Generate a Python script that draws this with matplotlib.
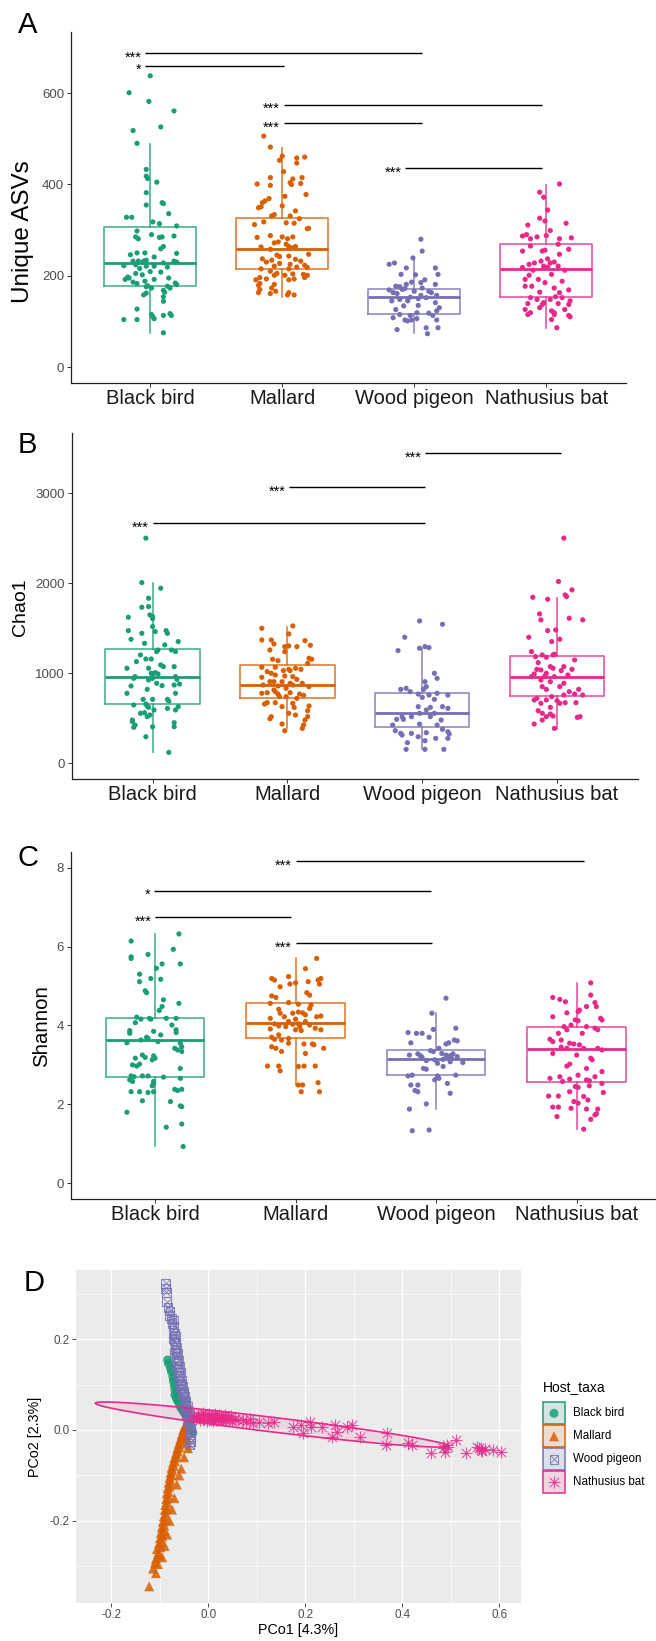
import matplotlib
matplotlib.use('Agg')
import matplotlib.pyplot as plt
from matplotlib.patches import Rectangle, Polygon
from matplotlib.colors import to_rgba
import numpy as np

plt.rcParams['font.family'] = ['Liberation Sans', 'DejaVu Sans']

# ---------------- data ----------------
categories = ["Black bird", "Mallard", "Wood pigeon", "Nathusius bat"]
colors = ["#1B9E77", "#D95F02", "#7570B3", "#E7298A"]

# Panel A : Unique ASVs  (jitter offset, value)
asv_black = [(0.00,638),(-0.16,601),(-0.01,582),(0.18,561),(-0.13,518),(0.08,526),(-0.10,490),(-0.03,433),
 (-0.03,418),(-0.02,413),(0.05,405),(-0.03,382),(0.09,360),(0.10,358),(-0.03,355),(0.14,336),(-0.18,328),
 (-0.14,328),(0.02,318),(0.07,314),(0.20,309),(-0.10,298),(0.01,290),(-0.11,285),(-0.09,281),(0.07,284),
 (0.09,285),(0.18,287),(0.10,264),(0.08,259),(-0.10,250),(-0.04,250),(0.20,249),(-0.15,246),(0.03,241),
 (-0.13,232),(-0.09,232),(-0.05,232),(-0.03,234),(0.18,232),(0.20,230),(0.10,228),(-0.20,222),(-0.11,224),
 (-0.03,221),(0.03,221),(0.13,219),(-0.08,216),(0.00,209),(0.08,208),(-0.11,205),(-0.06,202),(-0.17,197),
 (-0.16,195),(-0.19,192),(0.14,195),(0.03,192),(-0.04,188),(-0.13,186),(-0.10,183),(0.19,184),(0.20,181),
 (-0.02,178),(-0.03,176),(0.13,177),(0.01,173),(0.15,173),(0.10,168),(0.11,164),(-0.05,158),(-0.03,162),
 (0.10,154),(0.10,144),(-0.10,127),(0.01,115),(0.10,113),(0.15,117),(0.16,113),(0.02,110),(0.03,106),
 (-0.20,104),(-0.10,104),(0.10,75)]
asv_mallard = [(-0.14,506),(-0.09,482),(0.00,462),(-0.02,453),(0.11,458),(0.17,460),(0.11,447),(0.01,428),
 (-0.09,415),(0.08,412),(0.15,415),(-0.19,401),(-0.09,398),(0.06,404),(0.07,400),(0.14,402),(0.18,378),
 (0.02,374),(-0.10,369),(-0.13,364),(-0.15,360),(-0.18,349),(-0.16,351),(0.00,353),(-0.06,334),(-0.08,331),
 (0.10,342),(0.06,331),(0.19,303),(0.20,304),(-0.14,318),(-0.21,312),(0.03,316),(0.09,315),(0.13,325),
 (-0.19,284),(-0.09,288),(0.00,285),(0.04,281),(0.08,285),(-0.06,272),(-0.03,274),(0.03,269),(0.05,264),
 (0.08,261),(0.10,264),(-0.16,263),(-0.09,258),(0.20,247),(-0.04,245),(-0.02,242),(0.05,243),(-0.15,237),
 (-0.08,234),(0.10,236),(0.14,232),(-0.12,230),(-0.02,227),(0.06,225),(-0.06,221),(0.17,223),(0.19,218),
 (-0.16,215),(0.05,215),(0.11,219),(-0.09,210),(-0.04,205),(-0.06,201),(0.02,201),(0.08,204),(0.16,203),
 (0.19,201),(-0.17,196),(-0.12,193),(-0.20,191),(0.05,191),(0.09,193),(0.17,196),(-0.17,183),(-0.18,179),
 (-0.06,181),(-0.08,173),(-0.17,170),(-0.18,163),(-0.05,166),(-0.09,161),(0.04,158),(0.09,158),(0.05,163)]
asv_pigeon = [(0.05,280),(0.06,254),(-0.01,239),(-0.15,228),(-0.19,225),(-0.06,217),(0.16,217),(-0.10,203),
 (0.01,202),(0.18,203),(0.08,191),(-0.02,186),(0.05,185),(0.16,181),(-0.14,177),(-0.11,176),(-0.06,181),
 (0.06,173),(-0.19,169),(-0.09,170),(-0.07,172),(0.00,166),(0.11,166),(-0.16,163),(-0.13,161),(0.13,163),
 (0.05,157),(0.17,157),(-0.03,153),(0.09,152),(-0.17,145),(-0.11,148),(-0.05,145),(0.03,150),(0.16,141),
 (-0.08,134),(0.03,135),(-0.14,126),(0.19,130),(0.17,123),(0.11,118),(0.02,119),(-0.11,115),(-0.03,113),
 (0.14,113),(-0.16,108),(-0.07,103),(-0.05,101),(-0.02,103),(0.02,106),(0.17,103),(-0.13,82),(0.09,86),
 (0.18,86),(0.10,73)]
asv_bat = [(0.10,401),(-0.05,383),(-0.02,372),(0.01,344),(0.15,315),(-0.05,326),(-0.01,320),(-0.14,311),
 (0.03,299),(-0.18,287),(-0.15,290),(-0.07,285),(0.10,281),(0.19,283),(-0.12,281),(0.00,288),(0.09,269),
 (-0.12,265),(-0.18,254),(-0.03,254),(-0.01,256),(0.17,258),(0.10,247),(0.01,237),(-0.09,228),(-0.04,232),
 (0.03,228),(0.06,230),(-0.13,225),(-0.18,218),(-0.02,221),(0.01,219),(0.09,221),(-0.10,212),(0.14,212),
 (0.04,203),(-0.13,201),(-0.16,192),(-0.06,192),(-0.01,185),(0.12,188),(-0.11,177),(-0.16,177),(0.06,173),
 (0.17,169),(-0.05,164),(0.10,163),(0.07,154),(-0.12,152),(-0.07,148),(0.03,148),(0.12,152),(0.18,145),
 (-0.02,141),(-0.03,137),(-0.14,139),(0.09,139),(0.17,137),(-0.16,126),(-0.05,130),(0.14,126),(0.04,123),
 (-0.12,119),(-0.14,115),(0.06,119),(0.06,115),(0.17,113),(0.18,110),(0.04,104),(0.08,86)]
# box stats: (whislo, q1, med, q3, whishi)
asv_box = [(74,178,227,307,488),(154,214,258,327,479),(74,116,154,170,238),(85,153,215,269,399)]
# brackets: (x_start, x_end, y, label)
asv_brackets = [(0.96,3.06,687,"***"),(0.96,2.01,660,"*"),(2.01,3.97,575,"***"),
                (2.01,3.06,534,"***"),(2.93,3.97,435,"***")]
asv_yticks = [0, 200, 400, 600]

# Panel B : Chao1
chao_black = [(-0.05,2500),(-0.08,2007),(0.06,1944),(-0.03,1833),(-0.08,1733),(-0.03,1741),(-0.02,1648),
 (0.00,1630),(-0.18,1622),(0.00,1607),(0.00,1519),(-0.18,1474),(0.10,1474),(0.11,1444),(-0.08,1444),
 (-0.16,1378),(0.02,1463),(0.19,1352),(-0.06,1333),(0.09,1315),(0.03,1241),(0.04,1259),(0.14,1259),
 (0.17,1241),(-0.09,1204),(-0.12,1130),(-0.05,1159),(-0.01,1159),(0.06,1093),(0.08,1074),(-0.19,1056),
 (0.16,1074),(-0.03,1056),(0.02,1007),(-0.13,963),(-0.14,944),(-0.01,1000),(0.00,993),(0.04,993),
 (0.17,963),(0.18,933),(-0.03,926),(0.00,944),(-0.16,859),(0.03,889),(0.07,863),(0.16,870),(0.20,881),
 (-0.19,778),(0.17,778),(-0.04,822),(-0.07,711),(0.00,711),(0.11,711),(0.12,692),(-0.14,648),(-0.05,659),
 (-0.04,637),(-0.03,622),(0.11,611),(0.19,630),(0.17,593),(-0.09,556),(-0.06,563),(0.01,593),(-0.04,519),
 (-0.15,481),(-0.15,463),(-0.13,426),(-0.14,400),(-0.02,537),(0.16,452),(0.16,407),(0.00,407),(-0.05,296),
 (0.12,122)]
chao_mallard = [(0.04,1526),(-0.19,1500),(0.01,1437),(-0.19,1370),(-0.12,1370),(0.13,1363),(0.17,1311),
 (-0.10,1326),(-0.02,1296),(0.01,1304),(0.07,1296),(-0.13,1259),(-0.02,1241),(0.16,1167),(0.18,1156),
 (-0.11,1156),(-0.07,1141),(0.15,1111),(-0.19,1067),(-0.09,1067),(0.01,1044),(0.02,1030),(-0.03,1030),
 (0.06,1056),(0.10,1044),(-0.15,1019),(-0.12,1000),(-0.09,981),(-0.02,970),(0.04,963),(-0.19,956),
 (0.07,933),(-0.13,907),(-0.10,907),(-0.04,907),(0.02,889),(0.04,870),(0.11,889),(-0.18,870),(-0.07,859),
 (0.16,852),(-0.01,833),(-0.10,815),(-0.09,796),(-0.15,785),(-0.19,778),(-0.07,770),(0.02,785),(0.09,770),
 (0.12,756),(-0.06,741),(-0.01,741),(0.07,722),(-0.15,674),(-0.17,659),(-0.09,674),(0.04,667),(0.16,637),
 (-0.04,630),(0.05,622),(0.15,585),(0.06,537),(0.01,556),(-0.12,519),(-0.13,496),(0.15,519),(0.13,481),
 (-0.04,437),(0.12,426),(0.11,389),(-0.02,363)]
chao_pigeon = [(-0.02,1581),(0.15,1544),(-0.13,1400),(-0.18,1252),(-0.02,1278),(0.02,1296),(0.05,1285),
 (0.09,1000),(0.11,944),(0.02,907),(0.03,852),(0.01,822),(-0.12,833),(-0.16,822),(-0.09,796),(-0.03,770),
 (0.05,759),(0.19,759),(0.11,778),(0.09,711),(0.00,733),(-0.03,630),(0.15,630),(0.19,611),(0.06,622),
 (0.03,593),(-0.02,556),(0.09,556),(-0.15,519),(-0.08,519),(-0.19,489),(-0.14,489),(0.06,519),(0.14,481),
 (-0.22,426),(-0.02,437),(0.11,426),(0.15,378),(-0.20,363),(0.19,352),(0.20,326),(-0.16,333),(0.03,341),
 (-0.03,296),(-0.15,315),(-0.08,333),(0.10,278),(0.19,278),(-0.11,230),(0.02,252),(-0.12,156),(0.02,156),
 (0.16,156)]
chao_bat = [(0.05,2500),(0.01,2019),(0.11,1926),(-0.18,1844),(-0.07,1822),(0.07,1852),(0.06,1870),
 (-0.13,1659),(-0.12,1593),(0.09,1611),(0.19,1593),(-0.07,1474),(-0.01,1481),(-0.21,1400),(-0.04,1352),
 (0.02,1378),(-0.19,1241),(-0.16,1185),(-0.11,1204),(-0.08,1178),(-0.03,1204),(-0.02,1211),(0.13,1148),
 (-0.14,1119),(0.05,1074),(-0.05,1074),(-0.03,1056),(-0.15,1044),(-0.12,1037),(0.11,1044),(0.03,1030),
 (-0.17,993),(-0.19,963),(-0.08,1000),(-0.09,970),(-0.02,963),(0.08,981),(-0.12,926),(-0.05,907),
 (0.05,889),(-0.11,852),(-0.08,822),(0.02,852),(0.16,822),(0.09,796),(0.13,770),(0.19,759),(0.05,759),
 (-0.04,741),(-0.15,722),(-0.17,704),(-0.08,704),(0.00,696),(0.02,667),(0.06,674),(-0.12,667),(-0.05,622),
 (0.14,674),(-0.14,585),(-0.11,556),(-0.05,548),(-0.08,519),(-0.03,526),(0.15,511),(0.17,519),(-0.11,481),
 (-0.17,437),(-0.02,389)]
chao_box = [(122,656,963,1267,2000),(389,730,867,1093,1519),(156,407,556,778,1267),(378,748,963,1193,1833)]
chao_brackets = [(3.02,4.03,3444,"***"),(2.01,3.02,3067,"***"),(1.00,3.02,2667,"***")]
chao_yticks = [0, 1000, 2000, 3000]

# Panel C : Shannon
shan_black = [(0.17,6.32),(-0.17,6.14),(0.13,5.93),(-0.05,5.80),(-0.17,5.74),(-0.17,5.70),(0.18,5.56),
 (0.01,5.45),(0.05,5.56),(-0.11,5.30),(-0.03,5.19),(0.04,5.17),(-0.11,5.11),(-0.07,4.88),(-0.06,4.83),
 (0.06,4.65),(0.17,4.56),(0.05,4.48),(0.03,4.38),(-0.13,4.21),(-0.10,4.16),(-0.04,4.18),(-0.03,4.16),
 (0.08,4.18),(0.15,4.18),(-0.14,4.07),(0.12,4.01),(-0.18,3.87),(-0.18,3.80),(-0.01,3.85),(0.15,3.89),
 (0.15,3.82),(0.04,3.76),(-0.06,3.70),(-0.05,3.67),(-0.20,3.56),(-0.10,3.63),(0.02,3.59),(0.18,3.55),
 (0.14,3.42),(0.16,3.38),(0.19,3.46),(0.19,3.34),(-0.09,3.25),(-0.01,3.23),(0.00,3.17),(-0.14,3.17),
 (-0.07,3.19),(-0.02,3.13),(-0.16,3.00),(-0.13,2.97),(-0.11,3.02),(-0.17,2.72),(-0.18,2.62),(-0.15,2.70),
 (-0.09,2.72),(-0.05,2.72),(0.06,2.69),(0.18,2.66),(-0.16,2.58),(0.18,2.91),(-0.01,2.53),(-0.02,2.47),
 (-0.01,2.58),(0.14,2.38),(0.16,2.35),(0.19,2.38),(-0.17,2.32),(-0.11,2.32),(-0.05,2.30),(-0.01,2.32),
 (-0.09,2.09),(0.11,2.07),(0.18,1.96),(0.19,1.94),(-0.20,1.80),(0.19,1.50),(0.08,1.42),(0.20,0.93)]
shan_mallard = [(0.15,5.70),(0.07,5.44),(-0.17,5.19),(-0.15,5.15),(-0.05,5.24),(0.00,5.08),(-0.04,5.05),
 (0.16,5.15),(0.18,5.19),(0.17,5.05),(0.09,5.11),(-0.11,4.98),(0.08,4.83),(0.10,4.77),(-0.17,4.75),
 (-0.14,4.71),(-0.05,4.58),(-0.18,4.56),(0.02,4.54),(0.11,4.52),(0.10,4.43),(-0.12,4.41),(-0.11,4.31),
 (-0.02,4.31),(0.02,4.34),(0.05,4.32),(0.07,4.27),(0.15,4.22),(0.18,4.24),(-0.08,4.22),(0.00,4.16),
 (-0.18,4.18),(-0.05,4.10),(0.07,4.10),(-0.15,4.04),(-0.12,3.99),(-0.07,3.97),(0.10,4.01),(0.14,3.93),
 (0.18,3.89),(-0.18,3.91),(0.00,3.89),(0.04,3.87),(-0.12,3.76),(-0.17,3.70),(-0.15,3.65),(-0.05,3.67),
 (-0.10,3.63),(-0.17,3.46),(-0.14,3.42),(-0.05,3.55),(0.06,3.53),(0.12,3.53),(0.13,3.51),(0.20,3.42),
 (-0.10,3.34),(0.07,3.29),(-0.20,2.97),(-0.12,2.97),(-0.11,2.85),(0.02,2.96),(0.06,2.97),(0.14,2.97),
 (0.02,2.49),(0.05,2.49),(0.16,2.55),(0.04,2.32),(0.17,2.32),(-0.02,4.03),(0.02,4.04),(0.03,3.97)]
shan_pigeon = [(0.07,4.69),(-0.03,4.31),(-0.20,3.82),(-0.14,3.80),(-0.10,3.80),(-0.02,3.90),(0.14,3.93),
 (-0.05,3.70),(0.13,3.63),(0.15,3.61),(-0.18,3.56),(0.07,3.53),(0.09,3.56),(0.02,3.42),(-0.04,3.36),
 (-0.02,3.34),(0.04,3.29),(0.07,3.25),(0.10,3.23),(0.12,3.28),(-0.19,3.25),(-0.13,3.28),(-0.11,3.23),
 (0.08,3.19),(0.11,3.17),(0.05,3.14),(-0.01,3.13),(-0.07,3.11),(-0.10,3.19),(0.15,3.21),(0.19,3.06),
 (0.10,3.08),(0.01,3.04),(-0.09,2.91),(-0.07,2.89),(0.05,2.96),(-0.17,2.74),(-0.20,2.72),(0.01,2.72),
 (0.02,2.66),(0.14,2.74),(-0.01,2.62),(-0.18,2.49),(-0.13,2.49),(0.08,2.53),(-0.15,2.35),(-0.13,2.32),
 (0.10,2.28),(-0.07,2.01),(-0.19,1.88),(-0.17,1.33),(-0.05,1.35)]
shan_bat = [(0.10,5.08),(-0.17,4.71),(0.10,4.77),(-0.12,4.66),(-0.08,4.60),(0.13,4.58),(0.14,4.48),
 (0.07,4.48),(0.02,4.39),(0.01,4.35),(-0.07,4.32),(-0.17,4.22),(0.17,4.18),(0.18,4.14),(-0.01,4.14),
 (0.01,4.12),(-0.04,4.01),(-0.09,3.97),(0.07,3.97),(0.13,3.93),(0.15,3.89),(-0.07,3.89),(-0.13,3.80),
 (0.04,3.80),(-0.19,3.65),(-0.17,3.59),(-0.11,3.63),(-0.05,3.55),(-0.02,3.53),(0.02,3.51),(-0.11,3.45),
 (-0.07,3.42),(0.05,3.42),(0.15,3.42),(0.18,3.38),(-0.17,3.29),(0.00,3.25),(0.10,3.17),(0.11,3.13),
 (-0.05,3.02),(-0.07,2.97),(0.07,2.91),(0.18,2.83),(0.01,2.74),(-0.12,2.70),(0.13,2.70),(-0.19,2.66),
 (-0.05,2.64),(0.07,2.62),(0.09,2.60),(-0.10,2.58),(0.18,2.53),(-0.01,2.45),(0.01,2.43),(0.09,2.47),
 (-0.05,2.32),(0.19,2.30),(-0.20,2.21),(-0.13,2.21),(0.05,2.20),(-0.02,2.07),(0.01,2.03),(0.08,2.11),
 (-0.17,1.93),(-0.13,1.93),(-0.04,1.90),(0.07,1.88),(0.15,1.88),(0.13,1.73),(0.14,1.76),(-0.14,1.69),
 (0.10,1.62),(0.05,1.37)]
shan_box = [(0.95,2.69,3.63,4.18,6.31),(2.49,3.67,4.05,4.58,5.70),(1.89,2.74,3.14,3.38,4.31),(1.37,2.56,3.40,3.95,5.07)]
shan_brackets = [(2.00,4.05,8.16,"***"),(0.99,2.96,7.42,"*"),(1.00,1.97,6.75,"***"),(2.00,2.97,6.08,"***")]
shan_yticks = [0, 2, 4, 6, 8]

# Panel D : PCoA (PCo1, PCo2)
pcoa_black = [(-0.084,0.154),(-0.082,0.146),(-0.078,0.136),(-0.076,0.128),(-0.073,0.117),(-0.072,0.108),
 (-0.070,0.098),(-0.069,0.088),(-0.069,0.077),(-0.066,0.070),(-0.063,0.064),(-0.060,0.058),(-0.058,0.052),
 (-0.055,0.047),(-0.052,0.042),(-0.049,0.037),(-0.046,0.031),(-0.043,0.025),(-0.041,0.019),(-0.038,0.013),
 (-0.036,0.007),(-0.034,0.001),(-0.032,-0.006),(-0.064,0.082),(-0.061,0.073),(-0.056,0.062),(-0.051,0.050),
 (-0.047,0.040),(-0.044,0.030),(-0.040,0.022)]
pcoa_mallard = [(-0.122,-0.344),(-0.114,-0.305),(-0.110,-0.292),(-0.108,-0.283),(-0.104,-0.272),(-0.101,-0.276),
 (-0.106,-0.262),(-0.099,-0.258),(-0.102,-0.250),(-0.097,-0.246),(-0.100,-0.238),(-0.095,-0.234),(-0.098,-0.226),
 (-0.093,-0.222),(-0.096,-0.214),(-0.091,-0.210),(-0.094,-0.202),(-0.089,-0.198),(-0.092,-0.190),(-0.088,-0.184),
 (-0.090,-0.176),(-0.086,-0.172),(-0.089,-0.165),(-0.085,-0.160),(-0.087,-0.152),(-0.083,-0.148),(-0.086,-0.140),
 (-0.082,-0.136),(-0.084,-0.128),(-0.080,-0.124),(-0.082,-0.116),(-0.078,-0.112),(-0.080,-0.105),(-0.076,-0.100),
 (-0.078,-0.094),(-0.074,-0.090),(-0.076,-0.083),(-0.072,-0.079),(-0.073,-0.072),(-0.069,-0.068),(-0.070,-0.061),
 (-0.066,-0.058),(-0.067,-0.051),(-0.063,-0.047),(-0.064,-0.040),(-0.060,-0.037),(-0.061,-0.030),(-0.057,-0.026),
 (-0.058,-0.020),(-0.054,-0.016),(-0.055,-0.010),(-0.051,-0.006),(-0.052,0.000),(-0.049,0.005),(-0.048,0.010),
 (-0.046,-0.012),(-0.044,-0.030),(-0.042,-0.040),(-0.045,-0.020),(-0.050,-0.060),(-0.056,-0.085),(-0.060,-0.100),
 (-0.065,-0.120),(-0.070,-0.150),(-0.075,-0.175),(-0.080,-0.200),(-0.085,-0.230),(-0.090,-0.255),(-0.095,-0.280),
 (-0.104,-0.295),(-0.108,-0.315)]
pcoa_pigeon = [(-0.088,0.323),(-0.088,0.312),(-0.087,0.303),(-0.086,0.282),(-0.083,0.270),(-0.079,0.262),
 (-0.080,0.252),(-0.076,0.246),(-0.072,0.242),(-0.075,0.235),(-0.071,0.228),(-0.073,0.220),(-0.070,0.212),
 (-0.068,0.205),(-0.070,0.196),(-0.067,0.190),(-0.066,0.182),(-0.068,0.175),(-0.064,0.168),(-0.065,0.160),
 (-0.062,0.154),(-0.064,0.147),(-0.060,0.140),(-0.062,0.133),(-0.058,0.126),(-0.059,0.118),(-0.056,0.110),
 (-0.057,0.103),(-0.053,0.097),(-0.055,0.090),(-0.051,0.084),(-0.052,0.078),(-0.048,0.073),(-0.050,0.067),
 (-0.046,0.062),(-0.047,0.056),(-0.043,0.051),(-0.044,0.045),(-0.041,0.040),(-0.042,0.034),(-0.039,0.028),
 (-0.041,0.022),(-0.038,0.016),(-0.039,0.010),(-0.037,0.004),(-0.038,-0.003),(-0.036,-0.010),(-0.037,-0.018),
 (-0.036,-0.026),(-0.038,-0.033),(-0.045,0.035),(-0.049,0.055),(-0.054,0.080),(-0.058,0.100),(-0.061,0.120),
 (-0.065,0.140),(-0.069,0.170),(-0.072,0.200),(-0.044,0.020),(-0.047,0.042)]
pcoa_bat = [(-0.030,0.030),(-0.025,0.026),(-0.022,0.034),(-0.018,0.022),(-0.015,0.030),(-0.012,0.038),
 (-0.010,0.025),(-0.006,0.032),(-0.003,0.020),(0.000,0.028),(0.002,0.036),(0.004,0.024),(0.006,0.031),
 (0.009,0.019),(0.011,0.027),(0.013,0.035),(0.016,0.023),(0.018,0.030),(0.021,0.026),(0.023,0.033),
 (0.026,0.021),(0.028,0.029),(0.031,0.025),(0.034,0.032),(0.037,0.022),(0.040,0.028),(0.043,0.024),
 (0.046,0.030),(0.049,0.020),(-0.020,0.028),(-0.008,0.029),(0.008,0.027),(0.020,0.021),(0.035,0.027),
 (0.055,0.025),(0.062,0.022),(0.071,0.022),(0.078,0.018),(0.085,0.024),(0.092,0.016),(0.105,0.018),
 (0.123,0.016),(0.136,0.018),(0.174,0.007),(0.191,0.011),(0.196,-0.007),(0.209,0.018),(0.211,0.007),
 (0.235,0.007),(0.256,-0.015),(0.261,0.011),(0.265,-0.004),(0.286,0.007),(0.297,0.011),(0.312,-0.015),
 (0.368,-0.007),(0.366,-0.033),(0.412,-0.029),(0.420,-0.033),(0.459,-0.051),(0.484,-0.040),(0.488,-0.048),
 (0.492,-0.033),(0.511,-0.023),(0.532,-0.050),(0.554,-0.037),(0.558,-0.040),(0.562,-0.044),(0.571,-0.042),
 (0.588,-0.044),(0.604,-0.048),(0.495,-0.038),(0.565,-0.046)]
# Nathusius bat 95% ellipse: major-axis tips and semi-minor half width
bat_ellipse_tips = [(-0.233, 0.059), (0.494, -0.035)]
bat_ellipse_halfwidth = 0.016
pcoa_xticks = [-0.2, 0.0, 0.2, 0.4, 0.6]
pcoa_yticks = [-0.2, 0.0, 0.2]
pcoa_xlabel = "PCo1 [4.3%]"
pcoa_ylabel = "PCo2 [2.3%]"
legend_title = "Host_taxa"

# ---------------- figure ----------------
W, H = 656, 1641
fig = plt.figure(figsize=(W / 100, H / 100), dpi=100)

def px_axes(x0, y0, x1, y1):
    return fig.add_axes([x0 / W, 1 - y1 / H, (x1 - x0) / W, (y1 - y0) / H])

def box_panel(ax, groups, boxes, brackets, yticks, ylim):
    for i, (pts, bx, col) in enumerate(zip(groups, boxes, colors)):
        pos = i + 1
        lo, q1, med, q3, hi = bx
        bcol = to_rgba(col, 0.8)
        ax.bxp([dict(med=med, q1=q1, q3=q3, whislo=lo, whishi=hi, label=categories[i])],
               positions=[pos], widths=0.7, showfliers=False, showcaps=False,
               boxprops=dict(color=bcol, lw=1.2), whiskerprops=dict(color=bcol, lw=1.2),
               medianprops=dict(color=col, lw=2.0), zorder=2)
        xs = [pos + d for d, v in pts]
        ys = [v for d, v in pts]
        ax.scatter(xs, ys, s=14, color=col, edgecolors='none', zorder=3)
    for x0, x1, y, lab in brackets:
        ax.plot([x0, x1], [y, y], color='black', lw=1.0, solid_capstyle='butt', zorder=4)
        ax.annotate(lab, xy=(x0, y), xytext=(-2.5, -6.0), textcoords='offset points',
                    ha='right', va='baseline', fontsize=10.5, color='black')
    ax.set_xlim(0.4, 4.6)
    ax.set_ylim(*ylim)
    ax.set_xticks(range(1, 5))
    ax.set_xticklabels(categories, fontsize=14.5, color='#1a1a1a')
    ax.set_yticks(yticks)
    ax.set_yticklabels([str(t) for t in yticks], fontsize=9.5, color='#4D4D4D')
    ax.tick_params(axis='both', length=3, width=0.7, color='#333333')
    ax.tick_params(axis='x', pad=1.5)
    ax.tick_params(axis='y', pad=2)
    for s in ['top', 'right']:
        ax.spines[s].set_visible(False)
    for s in ['left', 'bottom']:
        ax.spines[s].set_linewidth(0.9)
        ax.spines[s].set_color('#222222')

axA = px_axes(71, 32, 625.5, 383)
box_panel(axA, [asv_black, asv_mallard, asv_pigeon, asv_bat], asv_box, asv_brackets, asv_yticks, (-35, 734))
axB = px_axes(71.7, 433, 638, 779)
box_panel(axB, [chao_black, chao_mallard, chao_pigeon, chao_bat], chao_box, chao_brackets, chao_yticks, (-173, 3667))
axC = px_axes(70.7, 852.3, 661, 1199)
box_panel(axC, [shan_black, shan_mallard, shan_pigeon, shan_bat], shan_box, shan_brackets, shan_yticks, (-0.40, 8.39))

# Panel D
axD = px_axes(76, 1270, 521, 1602.7)
axD.set_facecolor('#EBEBEB')
for s in axD.spines.values():
    s.set_visible(False)
axD.set_xlim(-0.273, 0.645)
axD.set_ylim(-0.380, 0.352)
axD.set_xticks(pcoa_xticks)
axD.set_xticklabels([f"{t:.1f}" for t in pcoa_xticks], fontsize=8.4, color='#4D4D4D')
axD.set_yticks(pcoa_yticks)
axD.set_yticklabels([f"{t:.1f}" for t in pcoa_yticks], fontsize=8.4, color='#4D4D4D')
axD.set_xticks([-0.1, 0.1, 0.3, 0.5], minor=True)
axD.set_yticks([-0.3, -0.1, 0.1, 0.3], minor=True)
axD.tick_params(which='major', length=2.75, width=0.6, color='#333333', pad=2)
axD.tick_params(which='minor', length=0)
axD.grid(which='major', color='white', lw=0.9)
axD.grid(which='minor', color='white', lw=0.45)
axD.set_axisbelow(True)

def xy(pts):
    return [p[0] for p in pts], [p[1] for p in pts]

x, y = xy(pcoa_black)
axD.scatter(x, y, marker='o', s=42, color=colors[0], alpha=0.85, edgecolors='none', zorder=3)
x, y = xy(pcoa_mallard)
axD.scatter(x, y, marker='^', s=52, color=colors[1], alpha=0.85, edgecolors='none', zorder=3)
x, y = xy(pcoa_pigeon)
axD.scatter(x, y, marker='s', s=40, facecolors='none', edgecolors=colors[2], lw=0.8, alpha=0.8, zorder=3)
axD.scatter(x, y, marker='x', s=30, color=colors[2], lw=0.7, alpha=0.8, zorder=3)
x, y = xy(pcoa_bat)
axD.scatter(x, y, marker='+', s=70, color=colors[3], lw=0.8, alpha=0.8, zorder=3)
axD.scatter(x, y, marker='x', s=45, color=colors[3], lw=0.8, alpha=0.8, zorder=3)

(lx, ly), (rx, ry) = bat_ellipse_tips
cx, cy = (lx + rx) / 2, (ly + ry) / 2
ux, uy = (rx - lx) / 2, (ry - ly) / 2
ul = np.hypot(ux, uy)
vx, vy = -uy / ul * bat_ellipse_halfwidth, ux / ul * bat_ellipse_halfwidth
t = np.linspace(0, 2 * np.pi, 200)
ex = cx + np.cos(t) * ux + np.sin(t) * vx
ey = cy + np.cos(t) * uy + np.sin(t) * vy
axD.add_patch(Polygon(np.column_stack([ex, ey]), closed=True, facecolor=to_rgba(colors[3], 0.1),
                      edgecolor=colors[3], lw=1.2, zorder=4))

# ---------------- overlay (labels, legend) ----------------
ov = fig.add_axes([0, 0, 1, 1])
ov.set_xlim(0, W)
ov.set_ylim(H, 0)
ov.axis('off')
ov.patch.set_alpha(0)

for lab, (px, py) in zip("ABCD", [(27.5, 25), (27, 445), (28, 858), (34, 1283)]):
    ov.text(px, py, lab, fontsize=21, ha='center', va='center', color='black')

ov.text(23, 232, "Unique ASVs", rotation=90, fontsize=17.5, ha='center', va='center')
ov.text(20, 607, "Chao1", rotation=90, fontsize=14, ha='center', va='center')
ov.text(42, 1026, "Shannon", rotation=90, fontsize=14.7, ha='center', va='center')
ov.text(298.5, 1630, pcoa_xlabel, fontsize=10.3, ha='center', va='center')
ov.text(35, 1437, pcoa_ylabel, rotation=90, fontsize=10.3, ha='center', va='center')

# legend
ov.text(543, 1387, legend_title, fontsize=10, ha='left', va='center')
markers = ['o', '^', 's', '*']
for i, (cat, col) in enumerate(zip(categories, colors)):
    yc = 1413.3 + i * 23
    bg = np.array(to_rgba('#F2F2F2'))
    fc = np.array(to_rgba(col))
    mix = bg * 0.85 + fc * 0.15
    mix[3] = 1
    ov.add_patch(Rectangle((543, yc - 11), 22, 22, facecolor=mix, edgecolor=col, lw=1.1))
    if i == 0:
        ov.scatter([554], [yc], marker='o', s=42, color=col, alpha=0.85, edgecolors='none')
    elif i == 1:
        ov.scatter([554], [yc], marker='^', s=52, color=col, alpha=0.85, edgecolors='none')
    elif i == 2:
        ov.scatter([554], [yc], marker='s', s=40, facecolors='none', edgecolors=col, lw=0.8, alpha=0.8)
        ov.scatter([554], [yc], marker='x', s=30, color=col, lw=0.7, alpha=0.8)
    else:
        ov.scatter([554], [yc], marker='+', s=70, color=col, lw=0.8, alpha=0.8)
        ov.scatter([554], [yc], marker='x', s=45, color=col, lw=0.8, alpha=0.8)
    ov.text(572.7, yc, cat, fontsize=8.4, ha='left', va='center')

fig.savefig("out.png", dpi=100)
